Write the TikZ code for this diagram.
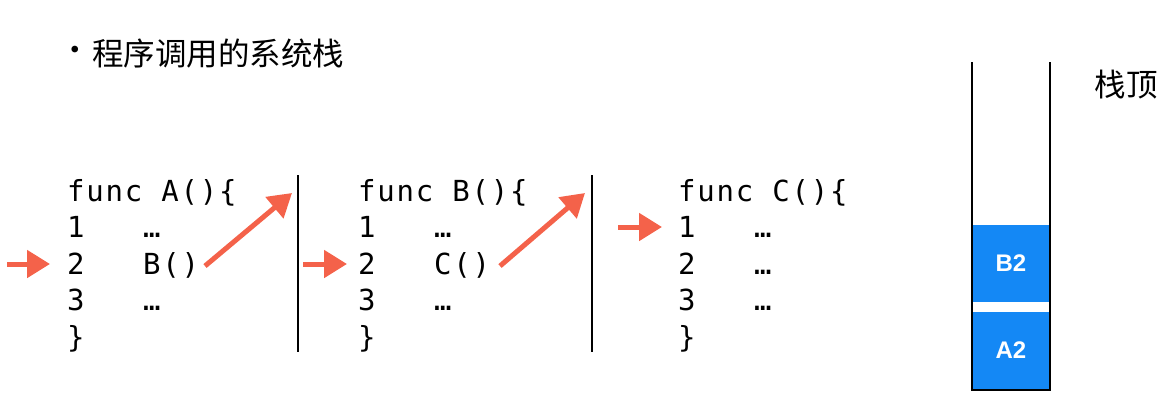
\documentclass[tikz,border=0pt]{standalone}
\usepackage{fontspec}
\setmainfont{Liberation Sans}
\newfontfamily\cjk{Noto Sans CJK SC}
\newfontfamily\code[LetterSpace=6]{DejaVu Sans Mono}
\usetikzlibrary{arrows.meta}
\definecolor{arrred}{RGB}{244,98,74}
\definecolor{stackblue}{RGB}{20,136,245}
\begin{document}
\begin{tikzpicture}[x=1pt,y=-1pt,
  codeline/.style={anchor=base west, inner sep=0pt, font=\code\fontsize{29}{32}\selectfont},
  redarrow/.style={draw=arrred, line width=5pt, -{Triangle[length=23pt,width=27pt]}},
  divider/.style={draw=black, line width=1.6pt},
  wall/.style={draw=black, line width=2pt},
  stackbox/.style={fill=stackblue, text=white, inner sep=0pt, minimum width=76pt, minimum height=77pt, font=\bfseries\fontsize{24}{27}\selectfont},
  cjktext/.style={inner sep=0pt, font=\cjk\fontsize{31.5}{36}\selectfont}
]
\useasboundingbox (0,0) rectangle (1176,400);

% title
\node[cjktext, anchor=center] (bullet) at (75,54) {•};
\node[cjktext, anchor=west] (title) at (92,54) {程序调用的系统栈};

% block A
\node[codeline] (Af) at (67,201) {func A()\{};
\node[codeline] (A1n) at (67,237.5) {1};
\node[codeline] (A1c) at (143,237.5) {…};
\node[codeline] (A2n) at (67,274) {2};
\node[codeline] (A2c) at (143,274) {B()};
\node[codeline] (A3n) at (67,310.5) {3};
\node[codeline] (A3c) at (143,310.5) {…};
\node[codeline] (Ae) at (67,347) {\}};

% block B
\node[codeline] (Bf) at (358,201) {func B()\{};
\node[codeline] (B1n) at (358,237.5) {1};
\node[codeline] (B1c) at (434,237.5) {…};
\node[codeline] (B2n) at (358,274) {2};
\node[codeline] (B2c) at (434,274) {C()};
\node[codeline] (B3n) at (358,310.5) {3};
\node[codeline] (B3c) at (434,310.5) {…};
\node[codeline] (Be) at (358,347) {\}};

% block C
\node[codeline] (Cf) at (678,201) {func C()\{};
\node[codeline] (C1n) at (678,237.5) {1};
\node[codeline] (C1c) at (754,237.5) {…};
\node[codeline] (C2n) at (678,274) {2};
\node[codeline] (C2c) at (754,274) {…};
\node[codeline] (C3n) at (678,310.5) {3};
\node[codeline] (C3c) at (754,310.5) {…};
\node[codeline] (Ce) at (678,347) {\}};

% dividers
\coordinate (d1t) at (298,175);
\coordinate (d1b) at (298,352);
\coordinate (d2t) at (592,175);
\coordinate (d2b) at (592,352);
\draw[divider] (d1t) -- (d1b);
\draw[divider] (d2t) -- (d2b);

% arrows
\coordinate (s1) at (7,264);
\coordinate (e1) at (50,264);
\coordinate (s2) at (303,264);
\coordinate (e2) at (347,264);
\coordinate (s3) at (618,227);
\coordinate (e3) at (662,227);
\coordinate (t1) at (292,193);
\coordinate (t2) at (585,193);
\coordinate (f1) at (205,266);
\coordinate (f2) at (500,266);
\draw[redarrow] (s1) -- (e1);
\draw[redarrow] (s2) -- (e2);
\draw[redarrow] (s3) -- (e3);
\draw[redarrow] (f1) -- (t1);
\draw[redarrow] (f2) -- (t2);

% stack
\node[stackbox] (B2) at (1011,263.5) {B2};
\node[stackbox] (A2) at (1011,350.5) {A2};
\coordinate (wl) at (972,62);
\coordinate (wr) at (1050,62);
\draw[wall] (wl) -- (972,390) -- (1050,390) -- (wr);
\node[cjktext] (top) at (1126,85) {栈顶};
\end{tikzpicture}
\end{document}
